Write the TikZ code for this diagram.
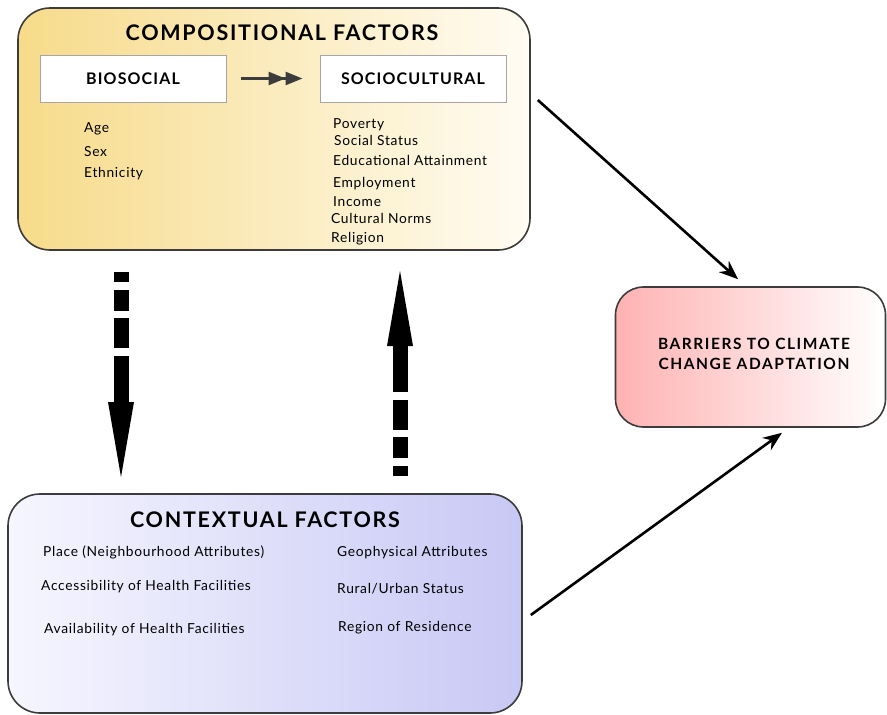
\documentclass[tikz,border=0pt]{standalone}
\usepackage{fontspec}
\setmainfont{Lato}
\usetikzlibrary{arrows.meta,positioning}
\definecolor{compyellow}{RGB}{247,219,138}
\definecolor{compwhite}{RGB}{255,252,242}
\definecolor{ctxwhite}{RGB}{246,246,255}
\definecolor{ctxblue}{RGB}{200,200,245}
\definecolor{barpink}{RGB}{255,178,178}
\definecolor{boxgray}{RGB}{60,60,60}
\tikzset{
  factorbox/.style={draw=boxgray, line width=1.6pt, rounded corners=32pt, inner sep=0pt},
  subbox/.style={draw=gray!70, line width=1pt, fill=white, inner sep=0pt,
    minimum width=186pt, minimum height=47pt,
    font=\bfseries\fontsize{16}{18}\selectfont\addfontfeatures{LetterSpace=7}},
  titletext/.style={font=\bfseries\fontsize{21.5}{24}\selectfont\addfontfeatures{LetterSpace=8},
    anchor=base},
  itemtext/.style={font=\fontsize{13.8}{16}\selectfont\addfontfeatures{LetterSpace=5},
    anchor=base west, inner sep=0pt},
  dasharrow/.style={line width=15pt, dash pattern=on 10pt off 8pt on 21pt off 7pt on 30pt off 8pt on 400pt off 0pt,
    -{Triangle[length=75pt,width=26pt,line width=0pt]}},
  thinarrow/.style={line width=2.6pt, -{Stealth[length=19pt,width=15pt]}}
}
\begin{document}
\begin{tikzpicture}[x=1pt,y=-1pt]
  \useasboundingbox (0,0) rectangle (887,715);
  % compositional factors
  \node[factorbox, left color=compyellow, right color=compwhite,
    minimum width=512pt, minimum height=242pt] (comp) at (274,129) {};
  \node[titletext] (comptitle) at (282,40) {COMPOSITIONAL FACTORS};
  \node[subbox] (bio) at (133,78.5) {BIOSOCIAL};
  \node[subbox] (socio) at (413,78.5) {SOCIOCULTURAL};
  \draw[line width=2.6pt, draw=boxgray,
    -{Triangle[length=17pt,width=13pt]Triangle[length=17pt,width=13pt]}]
    ([xshift=14pt]bio.east) -- ([xshift=-17pt]socio.west);
  \node[itemtext] (age) at (84,132) {Age};
  \node[itemtext] (sex) at (84,156) {Sex};
  \node[itemtext] (eth) at (84,177) {Ethnicity};
  \node[itemtext] (pov) at (333,128) {Poverty};
  \node[itemtext] (status) at (334,145) {Social Status};
  \node[itemtext] (edu) at (333,165) {Educational Attainment};
  \node[itemtext] (emp) at (333,187) {Employment};
  \node[itemtext] (inc) at (333,206) {Income};
  \node[itemtext] (norms) at (331,223) {Cultural Norms};
  \node[itemtext] (rel) at (331,242) {Religion};

  % barriers
  \node[factorbox, rounded corners=28pt, left color=barpink, right color=white,
    minimum width=270pt, minimum height=140pt] (barrier) at (750.5,357) {};
  \node[font=\bfseries\fontsize{15.5}{20}\selectfont\addfontfeatures{LetterSpace=10},
    align=center] (bartext) at (754,354)
    {BARRIERS TO CLIMATE\\CHANGE ADAPTATION};

  % contextual factors
  \node[factorbox, left color=ctxwhite, right color=ctxblue,
    minimum width=514pt, minimum height=219pt] (ctx) at (265,603.5) {};
  \node[titletext] (ctxtitle) at (265,527) {CONTEXTUAL FACTORS};
  \node[itemtext] (place) at (43,556) {Place (Neighbourhood Attributes)};
  \node[itemtext] (access) at (41,590) {Accessibility of Health Facilities};
  \node[itemtext] (avail) at (44,633) {Availability of Health Facilities};
  \node[itemtext] (geo) at (337,556) {Geophysical Attributes};
  \node[itemtext] (rural) at (337,593) {Rural/Urban Status};
  \node[itemtext] (region) at (338,631) {Region of Residence};

  % links between the boxes
  \coordinate (downtop) at (121,272);
  \coordinate (downend) at (121,477);
  \coordinate (upbottom) at (400,476);
  \coordinate (uptop) at (400,271);
  \draw[dasharrow] (downtop) -- (downend);
  \draw[dasharrow] (upbottom) -- (uptop);
  \draw[thinarrow] ([shift={(7,-29)}]comp.east) -- ([shift={(-12.5,-7)}]barrier.north);
  \draw[thinarrow] ([shift={(8,11.5)}]ctx.east) -- ([shift={(31.5,5)}]barrier.south);
\end{tikzpicture}
\end{document}
